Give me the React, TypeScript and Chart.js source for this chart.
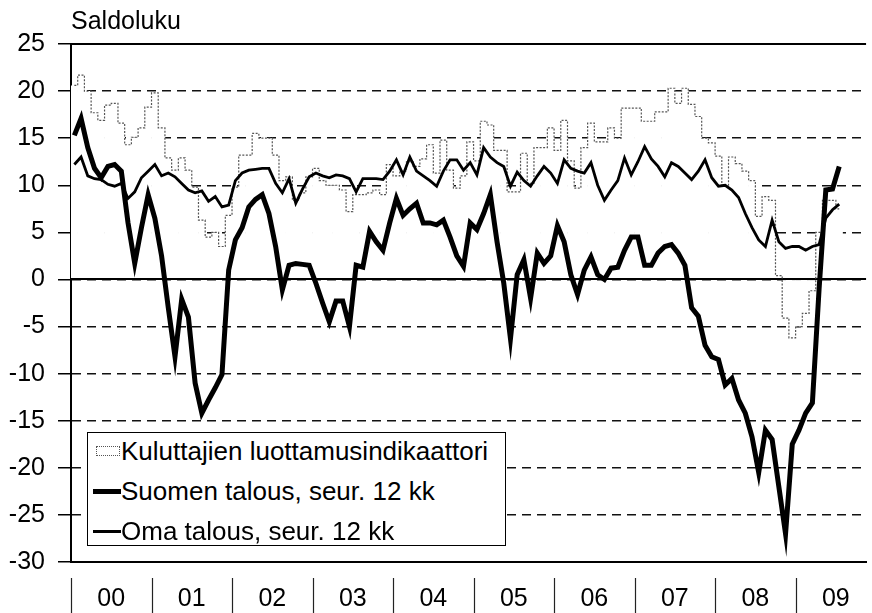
import React, { useEffect, useRef } from 'react';
import { Chart, registerables } from 'chart.js';

Chart.register(...registerables);

// Year labels (one per year, 2000-2009)
const yearLabels = ['00', '01', '02', '03', '04', '05', '06', '07', '08', '09'];

// Monthly values, Jan 2000 - Jul 2009
const kuluttajat = [
  20.6, 21.7, 20.0, 17.7, 16.9, 18.5, 18.7, 16.6, 14.3, 15.1, 16.1, 18.3,
  19.8, 16.1, 12.9, 11.6, 12.9, 11.6, 9.8, 6.3, 4.5, 5.0, 3.5, 6.8,
  9.8, 13.2, 13.2, 15.5, 15.0, 15.0, 13.2, 10.5, 10.9, 8.4, 9.2, 10.9,
  11.8, 10.5, 10.0, 10.0, 9.5, 7.2, 9.0, 9.0, 9.2, 9.5, 9.0, 12.2,
  11.0, 11.5, 12.5, 12.0, 12.8, 14.3, 11.3, 14.8, 11.6, 9.7, 11.0, 14.6,
  12.6, 16.8, 16.4, 13.7, 13.7, 9.3, 9.3, 13.4, 10.2, 14.0, 14.0, 16.1,
  13.7, 16.9, 12.6, 9.7, 14.0, 16.6, 14.6, 14.6, 16.1, 15.0, 18.2, 18.2,
  18.2, 16.8, 16.8, 17.8, 17.8, 20.3, 18.7, 20.3, 18.6, 17.3, 15.0, 14.5,
  13.1, 10.0, 13.0, 12.3, 11.5, 10.5, 6.7, 8.8, 8.4, 0.4, -4.1, -6.2,
  -5.0, -3.6, -1.2, 5.0, 8.4, 8.4, 7.5,
];

const suomenTalous = [
  15.3, 17.1, 14.0, 11.8, 10.8, 12.0, 12.2, 11.5, 6.0, 1.7, 5.5, 9.0,
  6.5, 2.5, -3.0, -8.2, -2.1, -4.0, -11.0, -14.2, -12.8, -11.5, -10.1, 1.0,
  4.2, 5.5, 7.7, 8.5, 9.0, 7.0, 3.5, -1.1, 1.5, 1.7, 1.6, 1.5,
  -0.4, -2.5, -4.5, -2.3, -2.3, -5.0, 1.5, 1.3, 5.1, 4.0, 3.1, 6.0,
  8.6, 6.8, 7.5, 8.1, 6.0, 6.0, 5.8, 6.3, 4.5, 2.5, 1.4, 6.0,
  5.3, 7.0, 9.0, 4.0, -0.4, -6.3, 0.5, 2.1, -2.0, 2.8, 1.7, 2.5,
  5.7, 4.0, 0.5, -1.6, 1.0, 2.4, 0.5, 0.0, 1.2, 1.3, 3.1, 4.5,
  4.5, 1.5, 1.5, 2.8, 3.5, 3.7, 2.8, 1.5, -3.0, -3.9, -7.0, -8.2,
  -8.5, -11.2, -10.5, -12.8, -14.2, -16.7, -20.5, -16.0, -17.0, -22.0, -27.0, -17.5,
  -16.0, -14.2, -13.1, -1.0, 9.5, 9.6, 12.0,
];

const omaTalous = [
  12.2, 13.0, 11.0, 10.7, 10.6, 10.1, 9.9, 10.2, 8.6, 9.3, 10.8, 11.5,
  12.2, 11.0, 11.3, 10.9, 10.2, 9.5, 9.2, 9.4, 8.3, 8.8, 7.7, 7.9,
  10.5, 11.3, 11.6, 11.7, 11.8, 11.8, 10.2, 9.2, 10.7, 8.1, 9.6, 10.9,
  11.3, 11.0, 10.8, 11.1, 11.0, 10.7, 9.3, 10.7, 10.7, 10.7, 10.6, 11.5,
  12.7, 11.1, 13.0, 11.5, 11.0, 10.5, 9.9, 11.5, 12.7, 12.7, 11.6, 12.4,
  11.1, 14.0, 13.0, 12.4, 12.0, 9.9, 11.4, 10.5, 9.9, 11.0, 12.0, 11.3,
  10.2, 12.7, 11.8, 11.5, 11.3, 12.4, 10.0, 8.4, 9.5, 10.5, 12.9, 11.1,
  12.5, 14.1, 12.8, 12.0, 10.9, 12.4, 12.0, 11.3, 10.6, 11.5, 12.7, 10.8,
  9.9, 10.0, 9.5, 8.7, 7.0, 5.5, 4.2, 3.5, 6.3, 4.0, 3.3, 3.5,
  3.5, 3.1, 3.5, 3.7, 6.5, 7.4, 8.0,
];

const yMin = -30;
const yMax = 25;
const yStep = 5;
const monthsOnAxis = 118.5; // axis runs past the image edge

const FONT = "'Liberation Sans', Arial, Helvetica, sans-serif";

const toPoints = (arr: number[]) => arr.map((v, i) => ({ x: i, y: v }));

const framePlugin = {
  id: 'frameLines',
  afterDatasetDraw(chart: any, args: any) {
    if (args.index !== 3) return;
    const { ctx, chartArea, scales } = chart;
    const y = scales.y;
    ctx.save();
    ctx.strokeStyle = '#000';
    ctx.lineWidth = 2;
    ctx.setLineDash([]);
    [0, yMax].forEach((v) => {
      const py = Math.round(y.getPixelForValue(v));
      ctx.beginPath();
      ctx.moveTo(chartArea.left, py);
      ctx.lineTo(chartArea.right, py);
      ctx.stroke();
    });
    ctx.restore();
  },
  afterDraw(chart: any) {
    const { ctx, chartArea, scales } = chart;
    const x = scales.x;
    ctx.save();
    ctx.strokeStyle = '#222';
    ctx.lineWidth = 1.2;
    yearLabels.forEach((_, k) => {
      const px = Math.round(x.getPixelForValue(k * 12 - 0.5)) + 0.5;
      ctx.beginPath();
      ctx.moveTo(px, chartArea.bottom + 16);
      ctx.lineTo(px, chartArea.bottom + 51);
      ctx.stroke();
    });
    ctx.restore();
  },
};

export default function App() {
  const ref = useRef<HTMLCanvasElement>(null);

  useEffect(() => {
    document.body.style.margin = '0';
    if (!ref.current) return;
    const chart = new Chart(ref.current, {
      type: 'bar',
      data: {
        datasets: [
          {
            type: 'line',
            label: 'Suomen talous, seur. 12 kk',
            data: toPoints(suomenTalous),
            borderColor: '#000',
            borderWidth: 5,
            pointRadius: 0,
            tension: 0,
            order: 1,
          },
          {
            type: 'line',
            label: 'Oma talous, seur. 12 kk',
            data: toPoints(omaTalous),
            borderColor: '#000',
            borderWidth: 2.8,
            pointRadius: 0,
            tension: 0,
            order: 2,
          },
          {
            type: 'line',
            label: 'outline',
            data: toPoints(kuluttajat),
            stepped: 'middle',
            borderColor: '#555',
            borderWidth: 1.2,
            borderDash: [2, 1.5],
            pointRadius: 0,
            order: 3,
          },
          {
            type: 'bar',
            label: 'Kuluttajien luottamusindikaattori',
            data: toPoints(kuluttajat),
            backgroundColor: '#fff',
            borderWidth: 0,
            barPercentage: 1.08,
            categoryPercentage: 1,
            order: 4,
          },
        ] as any,
      },
      options: {
        animation: false,
        responsive: true,
        maintainAspectRatio: false,
        layout: { padding: { left: 0, right: 0, top: 0, bottom: 0 } },
        plugins: {
          legend: { display: false },
          tooltip: { enabled: false },
          title: {
            display: true,
            text: 'Saldoluku',
            align: 'start',
            fullSize: false,
            color: '#000',
            font: { family: FONT, size: 25, weight: 'normal' },
            padding: { top: 7, bottom: 7 },
          },
        },
        scales: {
          x: {
            type: 'linear',
            min: -0.5,
            max: monthsOnAxis - 0.5,
            offset: false,
            grid: { display: false, drawTicks: false },
            border: { display: true, color: '#000', width: 2 },
            afterBuildTicks: (axis: any) => {
              axis.ticks = yearLabels.map((_, k) => ({ value: k * 12 + 5.5 }));
            },
            afterFit: (axis: any) => {
              axis.height = 51;
            },
            ticks: {
              autoSkip: false,
              maxRotation: 0,
              padding: 22,
              color: '#000',
              font: { family: FONT, size: 25 },
              callback: (_v: any, i: number) => yearLabels[i],
            },
          },
          y: {
            min: yMin,
            max: yMax,
            afterFit: (axis: any) => {
              axis.width = 71;
            },
            ticks: {
              stepSize: yStep,
              padding: 13,
              color: '#000',
              font: { family: FONT, size: 25 },
            },
            grid: {
              color: '#111',
              lineWidth: 1.5,
              tickLength: 13,
              tickColor: '#000',
              tickWidth: 1.5,
            },
            border: { display: true, color: '#000', width: 2, dash: [9, 6] },
          },
        },
      } as any,
      plugins: [framePlugin],
    });
    return () => chart.destroy();
  }, []);

  const rowStyle: React.CSSProperties = {
    position: 'absolute',
    left: 0,
    height: 36,
    display: 'flex',
    alignItems: 'center',
    whiteSpace: 'nowrap',
  };
  const iconBox: React.CSSProperties = {
    width: 33,
    height: 36,
    position: 'relative',
    flex: 'none',
  };

  return (
    <div style={{ position: 'absolute', left: 0, top: 0, width: 872, height: 613, overflow: 'hidden', background: '#fff' }}>
      <canvas ref={ref} />
      <div
        style={{
          position: 'absolute',
          left: 87,
          top: 432,
          width: 419,
          height: 114,
          border: '1.5px solid #000',
          background: '#fff',
          boxSizing: 'border-box',
          fontFamily: FONT,
          fontSize: 26,
          color: '#000',
        }}
      >
        <div style={{ ...rowStyle, top: 0 }}>
          <div style={iconBox}>
            <div style={{ position: 'absolute', left: 8, top: 13, width: 24, height: 10, border: '1px dotted #555', boxSizing: 'border-box', background: '#fff' }} />
          </div>
          <span>Kuluttajien luottamusindikaattori</span>
        </div>
        <div style={{ ...rowStyle, top: 40 }}>
          <div style={iconBox}>
            <div style={{ position: 'absolute', left: 5, top: 16, width: 28, height: 5, background: '#000' }} />
          </div>
          <span>Suomen talous, seur. 12 kk</span>
        </div>
        <div style={{ ...rowStyle, top: 80 }}>
          <div style={iconBox}>
            <div style={{ position: 'absolute', left: 5, top: 17, width: 28, height: 2.5, background: '#000' }} />
          </div>
          <span>Oma talous, seur. 12 kk</span>
        </div>
      </div>
    </div>
  );
}
